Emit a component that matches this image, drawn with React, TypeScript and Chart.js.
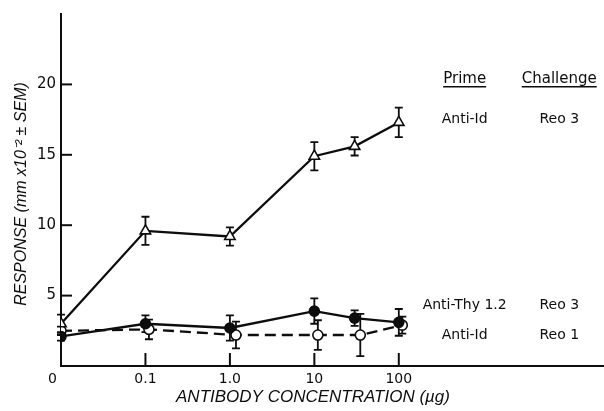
import React, { useEffect, useRef } from "react";
import { Chart, registerables } from "chart.js";
Chart.register(...registerables);

// ---- data (concentration in µg; 0 is placed one decade below 0.1) ----
const ZERO_POS = 0.01;
const triConc = [0, 0.1, 1, 10, 30, 100];
const triVals = [3.0, 9.6, 9.2, 14.9, 15.6, 17.3];
const triErr = [0.65, 1.0, 0.65, 1.0, 0.65, 1.05];

const thyConc = [0, 0.1, 1, 10, 30, 100];
const thyVals = [2.1, 3.0, 2.7, 3.9, 3.4, 3.1];
const thyErr = [0.3, 0.6, 0.9, 0.9, 0.55, 0.95];

const reo1Conc = [0, 0.11, 1.18, 11, 35, 110];
const reo1Vals = [2.5, 2.6, 2.2, 2.2, 2.2, 2.9];
const reo1Err = [0.3, 0.7, 0.95, 1.05, 1.5, 0.6];

const xTickPos = [-2.1, -1, 0, 1, 2];
const xTickLabels = ["0", "0.1", "1.0", "10", "100"];
const xTickMarks = [-1, 0, 1, 2];
const yTickVals = [5, 10, 15, 20];

const yTitle = "RESPONSE (mm x10\u207B\u00B2 \u00B1 SEM)";
const xTitle = "ANTIBODY CONCENTRATION (\u00B5g)";

const legendCols = [2.78, 3.9];
const legendHeader = ["Prime", "Challenge"];
const legendHeaderY = 20.4;
const legendRows = [
  { prime: "Anti-Id", challenge: "Reo 3", y: 17.5 },
  { prime: "Anti-Thy 1.2", challenge: "Reo 3", y: 4.3 },
  { prime: "Anti-Id", challenge: "Reo 1", y: 2.2 },
];

const INK = "#0d0d0d";
const FONT = "'DejaVu Sans', sans-serif";

const toX = (c: number) => Math.log10(c === 0 ? ZERO_POS : c);
const pts = (conc: number[], vals: number[]) => conc.map((c, i) => ({ x: toX(c), y: vals[i] }));

const errs: number[][] = [triErr, thyErr, reo1Err];

const errorBarPlugin = {
  id: "errbars",
  beforeDatasetsDraw(chart: any) {
    const { ctx, scales } = chart;
    const xs = scales.x, ys = scales.y;
    ctx.save();
    ctx.strokeStyle = INK;
    ctx.lineWidth = 1.8;
    chart.data.datasets.forEach((ds: any, di: number) => {
      ds.data.forEach((p: any, i: number) => {
        const e = errs[di][i];
        const px = xs.getPixelForValue(p.x);
        const y1 = ys.getPixelForValue(p.y + e);
        const y2 = ys.getPixelForValue(p.y - e);
        ctx.beginPath();
        ctx.moveTo(px, y1); ctx.lineTo(px, y2);
        ctx.moveTo(px - 4, y1); ctx.lineTo(px + 4, y1);
        ctx.moveTo(px - 4, y2); ctx.lineTo(px + 4, y2);
        ctx.stroke();
      });
    });
    ctx.restore();
  },
  afterDraw(chart: any) {
    const { ctx, scales, chartArea } = chart;
    const xs = scales.x, ys = scales.y;
    ctx.save();
    ctx.strokeStyle = INK;
    ctx.fillStyle = INK;
    ctx.lineWidth = 2;
    // inward ticks
    yTickVals.forEach((v) => {
      const py = ys.getPixelForValue(v);
      ctx.beginPath();
      ctx.moveTo(chartArea.left, py);
      ctx.lineTo(chartArea.left + 11, py);
      ctx.stroke();
    });
    xTickMarks.forEach((v) => {
      const px = xs.getPixelForValue(v);
      ctx.beginPath();
      ctx.moveTo(px, chartArea.bottom);
      ctx.lineTo(px, chartArea.bottom - 13);
      ctx.stroke();
    });
    // y title
    ctx.save();
    ctx.translate(22, (chartArea.top + chartArea.bottom) / 2 + 4);
    ctx.rotate(-Math.PI / 2);
    ctx.font = "italic 16px 'Liberation Sans', sans-serif";
    ctx.textAlign = "center";
    ctx.textBaseline = "middle";
    ctx.fillText(yTitle, 0, 0);
    ctx.restore();
    // x title
    ctx.font = "italic 17px 'Liberation Sans', sans-serif";
    ctx.textAlign = "center";
    ctx.textBaseline = "middle";
    ctx.fillText(xTitle, 313, chartArea.bottom + 31);
    // legend table
    ctx.font = `15px ${FONT}`;
    legendHeader.forEach((h, i) => {
      const px = xs.getPixelForValue(legendCols[i]);
      const py = ys.getPixelForValue(legendHeaderY);
      ctx.fillText(h, px, py);
      const w = ctx.measureText(h).width;
      ctx.lineWidth = 1.4;
      ctx.beginPath();
      ctx.moveTo(px - w / 2, py + 8);
      ctx.lineTo(px + w / 2, py + 8);
      ctx.stroke();
    });
    ctx.font = `14px ${FONT}`;
    legendRows.forEach((r) => {
      const py = ys.getPixelForValue(r.y);
      ctx.fillText(r.prime, xs.getPixelForValue(legendCols[0]), py);
      ctx.fillText(r.challenge, xs.getPixelForValue(legendCols[1]), py);
    });
    ctx.restore();
  },
};

export default function App() {
  const ref = useRef<HTMLCanvasElement>(null);
  useEffect(() => {
    if (!ref.current) return;
    const chart = new Chart(ref.current, {
      type: "line",
      data: {
        datasets: [
          {
            label: "Anti-Id / Reo 3",
            data: pts(triConc, triVals),
            borderColor: INK,
            borderWidth: 2.3,
            pointStyle: "triangle",
            pointRadius: 6,
            pointBackgroundColor: "#ffffff",
            pointBorderColor: INK,
            pointBorderWidth: 1.6,
            tension: 0,
          },
          {
            label: "Anti-Thy 1.2 / Reo 3",
            data: pts(thyConc, thyVals),
            borderColor: INK,
            borderWidth: 2.3,
            pointStyle: "circle",
            pointRadius: 5,
            pointBackgroundColor: INK,
            pointBorderColor: INK,
            pointBorderWidth: 1.6,
            tension: 0,
          },
          {
            label: "Anti-Id / Reo 1",
            data: pts(reo1Conc, reo1Vals),
            borderColor: INK,
            borderWidth: 2.3,
            borderDash: [11, 6],
            pointStyle: "circle",
            pointRadius: 5,
            pointBackgroundColor: "#ffffff",
            pointBorderColor: INK,
            pointBorderWidth: 1.6,
            tension: 0,
          },
        ],
      },
      options: {
        animation: false,
        responsive: true,
        maintainAspectRatio: false,
        layout: { autoPadding: false, padding: { top: 10, right: 0, left: 0, bottom: 0 } },
        plugins: { legend: { display: false }, tooltip: { enabled: false }, title: { display: false } },
        scales: {
          x: {
            type: "linear",
            min: -2,
            max: 4.43,
            afterBuildTicks: (s: any) => {
              s.ticks = xTickPos.map((v) => ({ value: v }));
            },
            afterFit: (s: any) => {
              s.height = 45;
            },
            ticks: {
              autoSkip: false,
              maxRotation: 0,
              padding: 5,
              color: INK,
              font: { family: FONT, size: 14 },
              callback: (v: any) => {
                const i = xTickPos.findIndex((p) => Math.abs(p - v) < 1e-6);
                return i >= 0 ? xTickLabels[i] : "";
              },
            },
            grid: { display: true, drawOnChartArea: false, drawTicks: false },
            border: { display: true, color: INK, width: 2 },
          },
          y: {
            type: "linear",
            min: 0,
            max: 25,
            afterBuildTicks: (s: any) => {
              s.ticks = yTickVals.map((v) => ({ value: v }));
            },
            afterFit: (s: any) => {
              s.width = 61;
            },
            ticks: {
              padding: 5,
              color: INK,
              font: { family: FONT, size: 15 },
            },
            grid: { display: true, drawOnChartArea: false, drawTicks: false },
            border: { display: true, color: INK, width: 2 },
          },
        },
      },
      plugins: [errorBarPlugin],
    });
    return () => chart.destroy();
  }, []);
  return (
    <div style={{ position: "fixed", left: 0, top: 0, width: 604, height: 411, background: "#fff" }}>
      <canvas ref={ref} />
    </div>
  );
}
